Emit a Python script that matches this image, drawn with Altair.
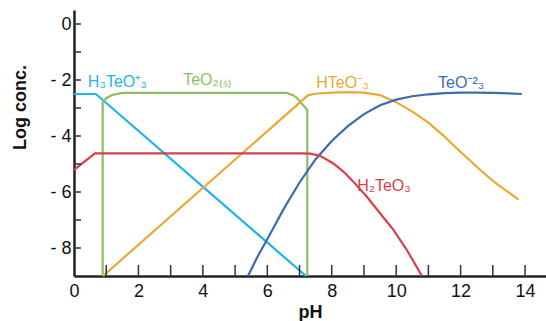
import altair as alt
import pandas as pd

# ---- data ----
SERIES = ["H3TeO3+", "TeO2(s)", "HTeO3-", "TeO3-2", "H2TeO3"]
COLORS = ["#1EB3EC", "#8CC062", "#E9A935", "#3C6BB0", "#D7404A"]

CYAN_X = [0.0, 0.68, 7.2]
CYAN_Y = [-2.5, -2.5, -9.0]

GREEN_X = [0.89, 0.89, 1.0, 1.2, 1.5, 6.6, 6.8, 6.93, 7.24, 7.24]
GREEN_Y = [-9.0, -2.8, -2.65, -2.53, -2.46, -2.46, -2.54, -2.65, -3.07, -9.0]

ORANGE_X = [0.9, 7.27, 7.5, 8.0, 8.5, 9.0, 9.5, 10.0, 10.5, 11.0, 11.5, 12.0, 12.5, 13.0, 13.5, 13.8]
ORANGE_Y = [-9.0, -2.54, -2.49, -2.45, -2.43, -2.45, -2.54, -2.79, -3.13, -3.52, -4.02, -4.57, -5.1, -5.6, -6.02, -6.27]

BLUE_X = [5.4, 5.7, 6.0, 6.5, 7.0, 7.5, 8.0, 8.5, 9.0, 9.5, 10.0, 10.5, 11.0, 11.5, 12.0, 12.5, 13.0, 13.5, 13.9]
BLUE_Y = [-9.0, -8.3, -7.69, -6.62, -5.66, -4.83, -4.18, -3.65, -3.22, -2.9, -2.7, -2.58, -2.51, -2.47, -2.45, -2.45, -2.46, -2.48, -2.5]

RED_X = [0.0, 0.65, 7.0, 7.33, 7.64, 8.05, 8.36, 8.67, 9.09, 9.5, 9.92, 10.33, 10.8]
RED_Y = [-5.21, -4.62, -4.62, -4.63, -4.71, -4.98, -5.27, -5.63, -6.17, -6.76, -7.36, -8.07, -9.0]

LABELS = ["H₃TeO⁺₃", "TeO₂₍ₛ₎", "HTeO⁻₃", "TeO⁻²₃", "H₂TeO₃"]
LABEL_X = [0.43, 3.39, 7.52, 11.3, 8.79]
LABEL_Y = [-2.25, -2.18, -2.29, -2.29, -5.96]

X_LABELS = [0, 2, 4, 6, 8, 10, 12, 14]
Y_LABELS = [0, -2, -4, -6, -8]
X_TICKS = list(range(1, 15))
Y_TICKS = list(range(-8, 1))

# ---- build tables ----
rows = []
for name, xs, ys in [
    (SERIES[0], CYAN_X, CYAN_Y),
    (SERIES[1], GREEN_X, GREEN_Y),
    (SERIES[2], ORANGE_X, ORANGE_Y),
    (SERIES[3], BLUE_X, BLUE_Y),
    (SERIES[4], RED_X, RED_Y),
]:
    for i, (x, y) in enumerate(zip(xs, ys)):
        rows.append({"series": name, "pH": x, "logc": y, "idx": i})
df = pd.DataFrame(rows)
lab = pd.DataFrame({"series": SERIES, "text": LABELS, "pH": LABEL_X, "logc": LABEL_Y})
xt = pd.DataFrame({"t": X_TICKS})
yt = pd.DataFrame({"t": Y_TICKS})

W, H = 472, 266
xscale = alt.Scale(domain=[0, 14.65], nice=False, zero=False)
yscale = alt.Scale(domain=[-9, 0.5], nice=False, zero=False)
color = alt.Color("series:N", scale=alt.Scale(domain=SERIES, range=COLORS), legend=None)

x_enc = alt.X(
    "pH:Q", scale=xscale,
    axis=alt.Axis(
        values=X_LABELS, tickSize=0, grid=False, labelFontSize=18, labelPadding=6,
        labelColor="#111", domainColor="#222", domainWidth=2.5, labelFlush=False,
        title="pH", titleFontSize=18, titleFontWeight="bold", titleColor="#111",
        titleY=41, titleBaseline="alphabetic",
    ),
)
y_enc = alt.Y(
    "logc:Q", scale=yscale,
    axis=alt.Axis(
        values=Y_LABELS, tickSize=0, grid=False, labelFontSize=18, labelPadding=3,
        labelColor="#111", domainColor="#222", domainWidth=2.5, labelFlush=False,
        labelExpr="datum.value == 0 ? '0' : '- ' + abs(datum.value)",
        title="Log conc.", titleFontSize=18, titleFontWeight="bold", titleColor="#111",
        titleAngle=270, titleX=-54, titleY=97, titleAlign="center", titleBaseline="middle",
    ),
)

lines = alt.Chart(df).mark_line(strokeWidth=2.2, interpolate="linear").encode(
    x=x_enc, y=y_enc, color=color, order="idx:Q", detail="series:N"
)
texts = alt.Chart(lab).mark_text(
    align="left", baseline="alphabetic", fontSize=16
).encode(x="pH:Q", y="logc:Q", text="text:N", color=color)

xticks = alt.Chart(xt).mark_rule(color="#333", strokeWidth=1.5).encode(
    x=alt.X("t:Q", scale=xscale), y=alt.value(H), y2=alt.value(H - 11)
)
yticks = alt.Chart(yt).mark_rule(color="#333", strokeWidth=1.5).encode(
    y=alt.Y("t:Q", scale=yscale), x=alt.value(0), x2=alt.value(7)
)

chart = alt.layer(lines, texts, xticks, yticks).properties(
    width=W, height=H,
    padding={"left": 74, "top": 10, "right": 0, "bottom": 45},
    autosize=alt.AutoSizeParams(type="none"),
    background="white",
).configure(font="Liberation Sans").configure_view(stroke=None)

chart.save("out.html", embed_options={"renderer": "svg", "actions": False})
